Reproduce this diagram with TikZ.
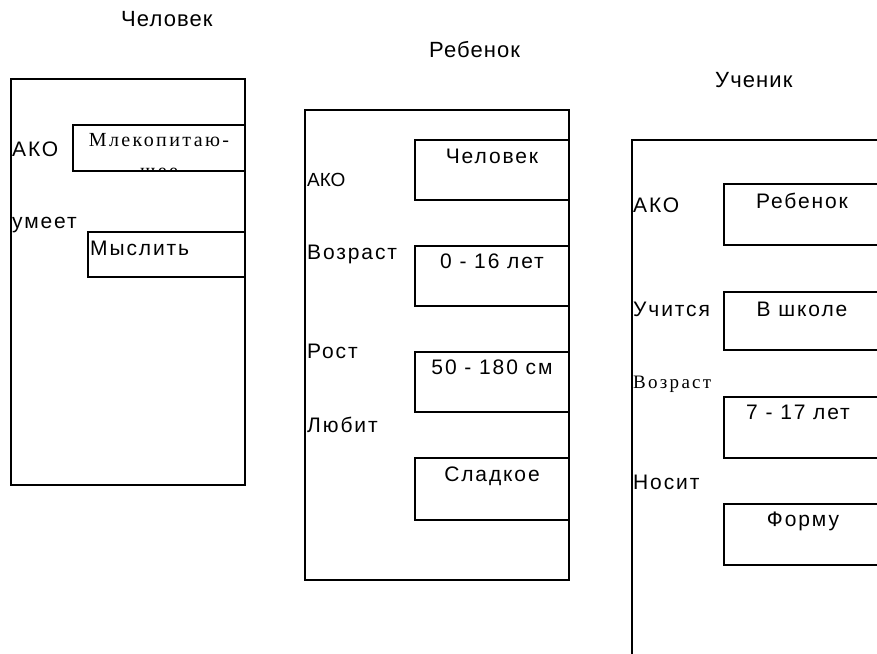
\documentclass[tikz,border=0pt]{standalone}
\usepackage{fontspec}
\setmainfont{Liberation Sans}
\newfontfamily\titlefont[LetterSpace=5]{Liberation Sans}
\newfontfamily\slotfont[LetterSpace=9]{Liberation Sans}
\newfontfamily\oldfont[LetterSpace=12]{Liberation Serif}
\tikzset{
  frame line/.style={line width=1.3pt},
  slot line/.style={line width=1.3pt},
  frame title/.style={anchor=base west, inner sep=0pt, font=\titlefont\fontsize{22}{24}\selectfont},
  slot name/.style={anchor=base west, inner sep=0pt, font=\slotfont\fontsize{21}{23}\selectfont},
  ako name/.style={anchor=base west, inner sep=0pt, font=\fontsize{19}{21}\selectfont},
  slot value/.style={anchor=base, inner sep=0pt, font=\slotfont\fontsize{21}{23}\selectfont},
  old value/.style={anchor=base, inner sep=0pt, font=\oldfont\fontsize{20}{22}\selectfont},
  old name/.style={anchor=base west, inner sep=0pt, font=\oldfont\fontsize{19}{21}\selectfont},
}

\begin{document}
\begin{tikzpicture}[x=1pt,y=-1pt]
  \useasboundingbox (0,0) rectangle (877,653);
  \clip (0,0) rectangle (877,653);

  % frame: Человек
  \node[frame title] (manTitle) at (121,27) {Человек};
  \draw[frame line] (11,79) rectangle (245,485);
  \draw[slot line] (73,125) rectangle (245,171);
  \draw[slot line] (88,232) rectangle (245,277);
  \node[slot name] (manAko) at (12,156) {АКО};
  \node[slot name] (manCan) at (12,228) {умеет};
  \node[old value] (manAkoVal) at (159,146) {Млекопитаю-};
  \begin{scope}
    \clip (73,125) rectangle (245,170);
    \node[old value] (manAkoRest) at (159,177) {щее};
  \end{scope}
  \node[slot value,anchor=base west] (manCanVal) at (90,255) {Мыслить};

  % frame: Ребенок
  \node[frame title] (childTitle) at (429,57) {Ребенок};
  \draw[frame line] (305,110) rectangle (569,580);
  \foreach \top/\bot in {140/200, 246/306, 352/412, 458/520}
    \draw[slot line] (415,\top) rectangle (569,\bot);
  \node[ako name] (childAko) at (307,186) {АКО};
  \node[slot name] (childAge) at (307,259) {Возраст};
  \node[slot name] (childHeight) at (307,358) {Рост};
  \node[slot name] (childLikes) at (307,432) {Любит};
  \node[slot value] (childAkoVal) at (492,163) {Человек};
  \node[slot value] (childAgeVal) at (492,268) {0 - 16 лет};
  \node[slot value] (childHeightVal) at (492,374) {50 - 180 см};
  \node[slot value] (childLikesVal) at (492,481) {Сладкое};

  % frame: Ученик
  \node[frame title] (pupilTitle) at (715,87) {Ученик};
  \draw[frame line] (632,140) rectangle (900,670);
  \foreach \top/\bot in {184/245, 292/350, 397/458, 504/565}
    \draw[slot line] (724,\top) rectangle (880,\bot);
  \node[slot name] (pupilAko) at (633,212) {АКО};
  \node[slot name] (pupilStudies) at (633,316) {Учится};
  \node[old name] (pupilAge) at (633,388) {Возраст};
  \node[slot name] (pupilWears) at (633,489) {Носит};
  \node[slot value] (pupilAkoVal) at (802,208) {Ребенок};
  \node[slot value] (pupilStudiesVal) at (802,316) {В школе};
  \node[slot value] (pupilAgeVal) at (798,419) {7 - 17 лет};
  \node[slot value] (pupilWearsVal) at (803,526) {Форму};
\end{tikzpicture}
\end{document}
